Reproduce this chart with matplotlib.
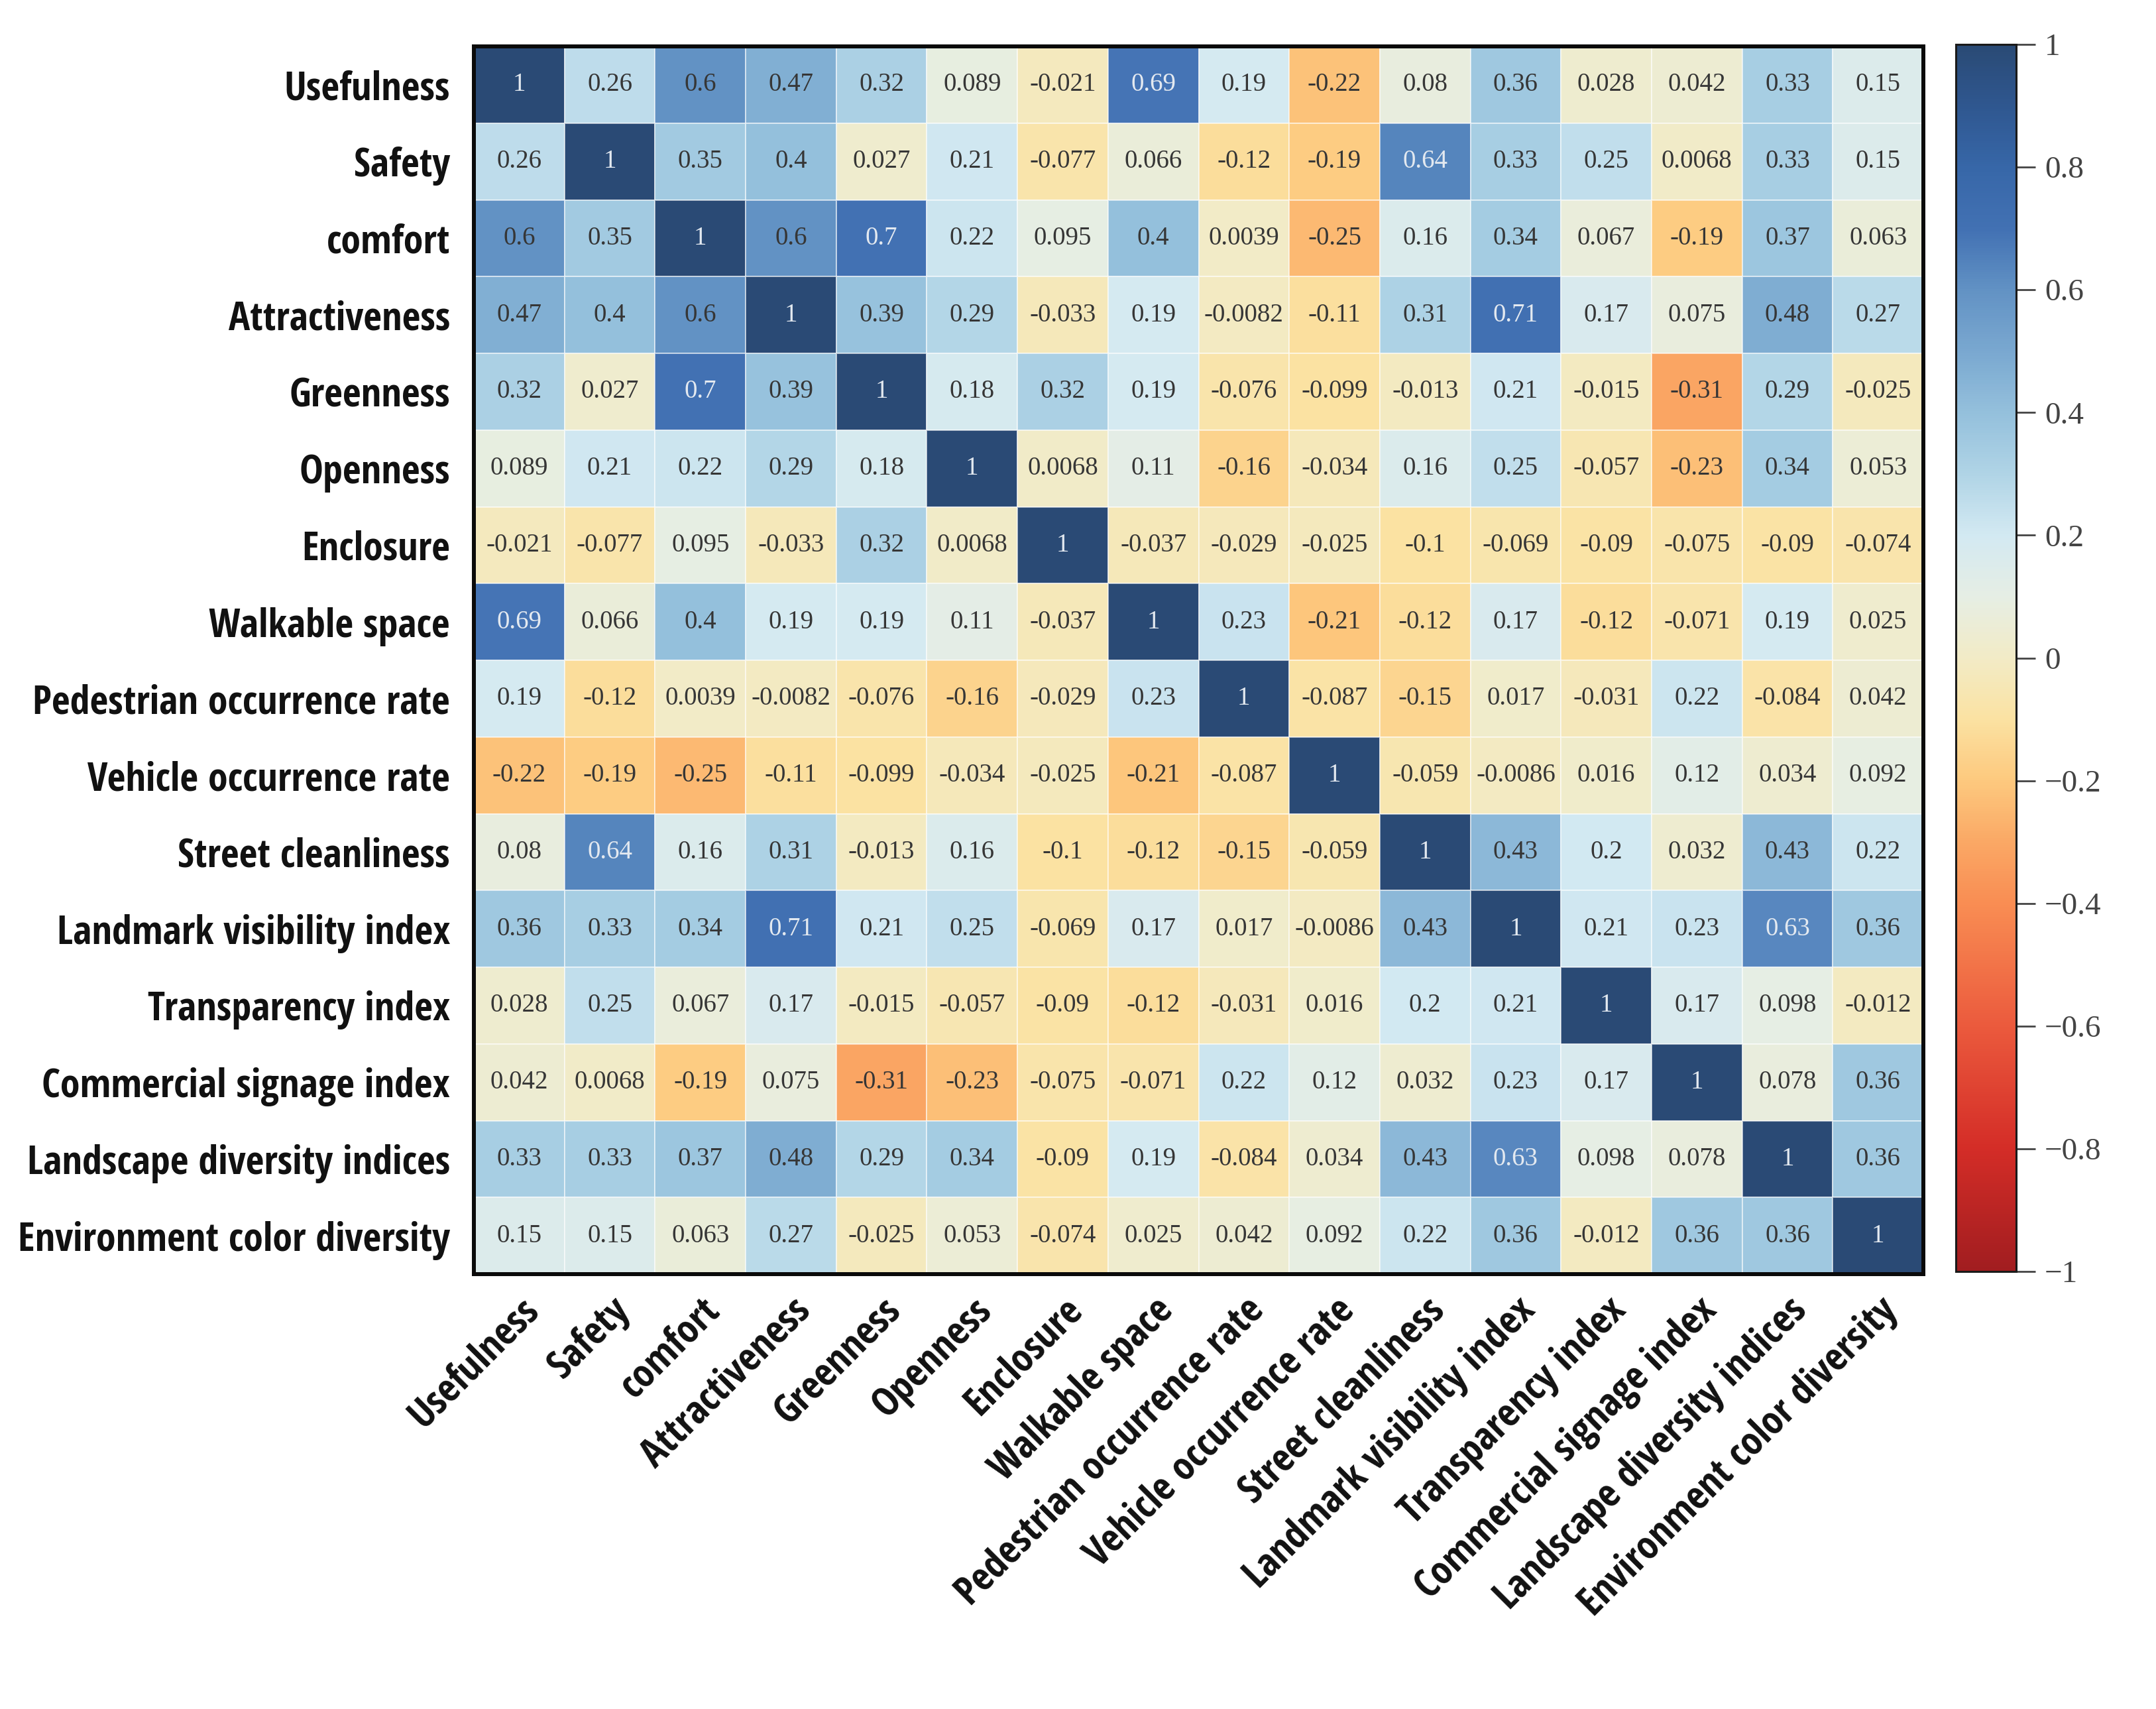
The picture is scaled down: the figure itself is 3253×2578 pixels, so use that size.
import os
import numpy as np
import matplotlib
matplotlib.use("Agg")
import matplotlib.pyplot as plt
import matplotlib.font_manager as fm
from matplotlib.colors import LinearSegmentedColormap
from matplotlib.textpath import TextPath
from matplotlib.ticker import FuncFormatter

# ---------------- data ----------------
labels = ["Usefulness", "Safety", "comfort", "Attractiveness", "Greenness",
          "Openness", "Enclosure", "Walkable space", "Pedestrian occurrence rate",
          "Vehicle occurrence rate", "Street cleanliness", "Landmark visibility index",
          "Transparency index", "Commercial signage index",
          "Landscape diversity indices", "Environment color diversity"]

r_usefulness = [1, 0.26, 0.6, 0.47, 0.32, 0.089, -0.021, 0.69, 0.19, -0.22, 0.08, 0.36, 0.028, 0.042, 0.33, 0.15]
r_safety = [0.26, 1, 0.35, 0.4, 0.027, 0.21, -0.077, 0.066, -0.12, -0.19, 0.64, 0.33, 0.25, 0.0068, 0.33, 0.15]
r_comfort = [0.6, 0.35, 1, 0.6, 0.7, 0.22, 0.095, 0.4, 0.0039, -0.25, 0.16, 0.34, 0.067, -0.19, 0.37, 0.063]
r_attract = [0.47, 0.4, 0.6, 1, 0.39, 0.29, -0.033, 0.19, -0.0082, -0.11, 0.31, 0.71, 0.17, 0.075, 0.48, 0.27]
r_green = [0.32, 0.027, 0.7, 0.39, 1, 0.18, 0.32, 0.19, -0.076, -0.099, -0.013, 0.21, -0.015, -0.31, 0.29, -0.025]
r_open = [0.089, 0.21, 0.22, 0.29, 0.18, 1, 0.0068, 0.11, -0.16, -0.034, 0.16, 0.25, -0.057, -0.23, 0.34, 0.053]
r_enclosure = [-0.021, -0.077, 0.095, -0.033, 0.32, 0.0068, 1, -0.037, -0.029, -0.025, -0.1, -0.069, -0.09, -0.075, -0.09, -0.074]
r_walk = [0.69, 0.066, 0.4, 0.19, 0.19, 0.11, -0.037, 1, 0.23, -0.21, -0.12, 0.17, -0.12, -0.071, 0.19, 0.025]
r_ped = [0.19, -0.12, 0.0039, -0.0082, -0.076, -0.16, -0.029, 0.23, 1, -0.087, -0.15, 0.017, -0.031, 0.22, -0.084, 0.042]
r_vehicle = [-0.22, -0.19, -0.25, -0.11, -0.099, -0.034, -0.025, -0.21, -0.087, 1, -0.059, -0.0086, 0.016, 0.12, 0.034, 0.092]
r_clean = [0.08, 0.64, 0.16, 0.31, -0.013, 0.16, -0.1, -0.12, -0.15, -0.059, 1, 0.43, 0.2, 0.032, 0.43, 0.22]
r_landmark = [0.36, 0.33, 0.34, 0.71, 0.21, 0.25, -0.069, 0.17, 0.017, -0.0086, 0.43, 1, 0.21, 0.23, 0.63, 0.36]
r_transp = [0.028, 0.25, 0.067, 0.17, -0.015, -0.057, -0.09, -0.12, -0.031, 0.016, 0.2, 0.21, 1, 0.17, 0.098, -0.012]
r_commercial = [0.042, 0.0068, -0.19, 0.075, -0.31, -0.23, -0.075, -0.071, 0.22, 0.12, 0.032, 0.23, 0.17, 1, 0.078, 0.36]
r_landscape = [0.33, 0.33, 0.37, 0.48, 0.29, 0.34, -0.09, 0.19, -0.084, 0.034, 0.43, 0.63, 0.098, 0.078, 1, 0.36]
r_envcolor = [0.15, 0.15, 0.063, 0.27, -0.025, 0.053, -0.074, 0.025, 0.042, 0.092, 0.22, 0.36, -0.012, 0.36, 0.36, 1]

corr = np.array([r_usefulness, r_safety, r_comfort, r_attract, r_green, r_open,
                 r_enclosure, r_walk, r_ped, r_vehicle, r_clean, r_landmark,
                 r_transp, r_commercial, r_landscape, r_envcolor], dtype=float)

cbar_ticks = [-1, -0.8, -0.6, -0.4, -0.2, 0, 0.2, 0.4, 0.6, 0.8, 1]

# ---------------- colormap ----------------
cmap_nodes = [
    (0.00, "#a11d20"), (0.10, "#d42d27"), (0.20, "#eb5a3d"), (0.30, "#f98d53"),
    (0.35, "#faa865"), (0.40, "#fdc97e"), (0.45, "#fbe2a2"), (0.50, "#f2ebc6"),
    (0.55, "#e6eee4"), (0.60, "#d3e9f2"), (0.65, "#b0d4e6"), (0.70, "#94c0dc"),
    (0.75, "#7aa8d0"), (0.80, "#6292c4"), (0.85, "#4271b3"), (0.90, "#3767a8"),
    (0.95, "#2f5790"), (1.00, "#2a4a75"),
]
cmap = LinearSegmentedColormap.from_list("corr", cmap_nodes, N=512)

# ---------------- fonts ----------------
def find_font(filenames):
    names = {os.path.basename(f.fname).lower(): f.fname for f in fm.fontManager.ttflist}
    for fn in filenames:
        if fn.lower() in names:
            return fm.FontProperties(fname=names[fn.lower()])
    return None

label_fp = find_font(["NotoSans-CondensedBold.ttf", "OpenSans-CondBold.ttf",
                      "OpenSans_Condensed-Bold.ttf", "LiberationSansNarrow-Bold.ttf",
                      "DejaVuSansCondensed-Bold.ttf"])
if label_fp is None:
    label_fp = fm.FontProperties(family="Open Sans", weight="bold")

# size the label font so that "Usefulness" is about 245 px wide (dpi 100)
w100 = TextPath((0, 0), "Usefulness", size=100, prop=label_fp).get_extents().width
label_size = 100 * (245 * 72 / 100) / w100
label_fp.set_size(label_size)

cell_font = "Liberation Serif"

# ---------------- figure ----------------
W, H = 3253, 2578
fig = plt.figure(figsize=(W / 100, H / 100), dpi=100, facecolor="white")
ax = fig.add_axes([715 / W, 1 - 1922 / H, (2902 - 715) / W, (1922 - 70) / H])

n = len(labels)
edges = np.arange(n + 1)
mesh = ax.pcolormesh(edges, edges, corr, cmap=cmap, vmin=-1, vmax=1,
                     edgecolors=(1, 1, 1, 0.55), linewidth=1.2)
ax.set_xlim(0, n)
ax.set_ylim(n, 0)

for i in range(n):
    for j in range(n):
        v = corr[i, j]
        col = "#e3e9f0" if v > 0.62 else "#363636"
        ax.text(j + 0.5, i + 0.5, f"{v:.2g}", ha="center", va="center",
                fontsize=28, family=cell_font, color=col)

ax.set_xticks(edges[:-1] + 0.5)
ax.set_yticks(edges[:-1] + 0.5)
ax.set_xticklabels(labels, rotation=45, ha="right", rotation_mode="anchor",
                   fontproperties=label_fp, color="#111111")
ax.set_yticklabels(labels, fontproperties=label_fp, color="#111111")
ax.tick_params(axis="x", length=0, pad=18)
ax.tick_params(axis="y", length=0, pad=26)
for sp in ax.spines.values():
    sp.set_linewidth(4.3)
    sp.set_color("#0a0a0a")

# ---------------- colorbar ----------------
cax = fig.add_axes([2951 / W, 1 - 1918 / H, (3042 - 2951) / W, (1918 - 67) / H])
cb = fig.colorbar(mesh, cax=cax, ticks=cbar_ticks)
cb.outline.set_linewidth(2.2)
cb.outline.set_edgecolor("#1a1a1a")
cb.ax.yaxis.set_major_formatter(FuncFormatter(
    lambda v, p: ("\u2212" if v < -1e-9 else "") + f"{abs(round(v, 1)):g}"))
cb.ax.tick_params(length=21, width=2, color="#444444", pad=10,
                  labelcolor="#444444", labelsize=34,
                  labelfontfamily=cell_font)

fig.savefig("out.png", dpi=100, facecolor="white")
